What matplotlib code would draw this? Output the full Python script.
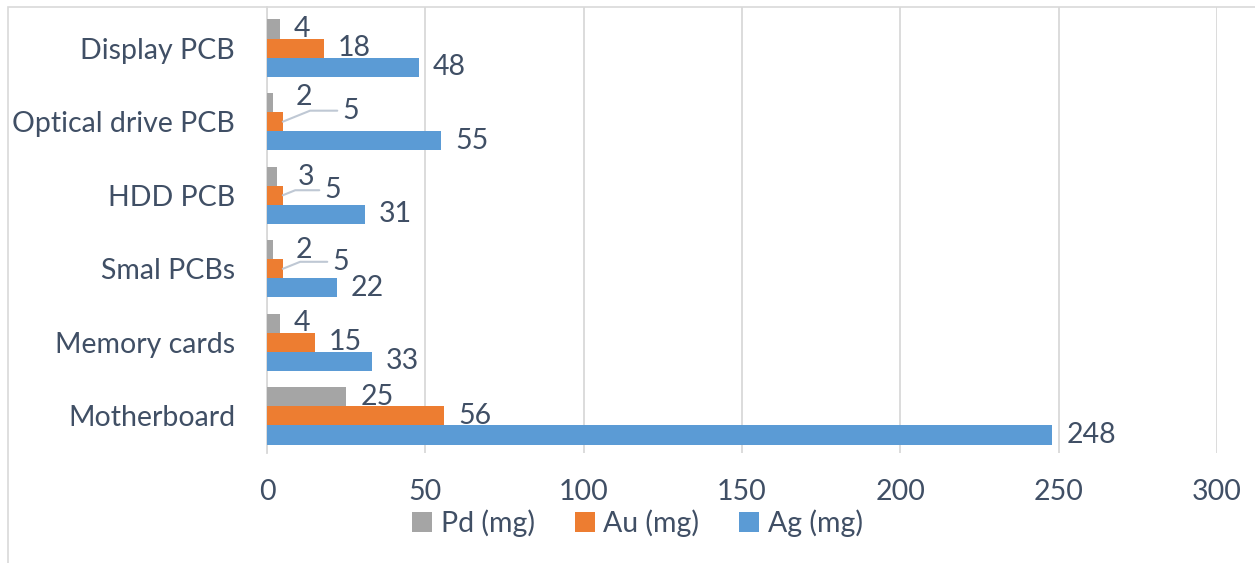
import matplotlib.pyplot as plt
import matplotlib.patches as mpatches
import numpy as np

categories = ['Motherboard', 'Memory cards', 'Smal PCBs', 'HDD PCB',
              'Optical drive PCB', 'Display PCB']
ag = [248, 33, 22, 31, 55, 48]
au = [56, 15, 5, 5, 5, 18]
pd_ = [25, 4, 2, 3, 2, 4]
x_ticks = [0, 50, 100, 150, 200, 250, 300]

txt = '#404F65'
fs = 20.5
plt.rcParams['font.family'] = ['Lato', 'DejaVu Sans']
plt.rcParams['font.size'] = fs

fig = plt.figure(figsize=(12.55, 5.63), dpi=100)
ax = fig.add_axes([267 / 1255, 1 - 453 / 563, 950 / 1255, 446 / 563])

# chart border
fig.patches.append(mpatches.Rectangle((8 / 1255, -0.1), 1.2, 1 - 7 / 563 + 0.1,
                                      transform=fig.transFigure, fill=False,
                                      edgecolor='#D9D9D9', linewidth=1.2))

y = np.arange(len(categories))
h = 0.26
b_pd = ax.barh(y + h, pd_, h, color='#A5A5A5', label='Pd (mg)', zorder=3)
b_au = ax.barh(y, au, h, color='#ED7D31', label='Au (mg)', zorder=3)
b_ag = ax.barh(y - h, ag, h, color='#5B9BD5', label='Ag (mg)', zorder=3)

# default label offset (pixels), a few small ones moved with leader lines
moved = {
    ('au', 4): (60, 11), ('pd', 4): (22, 6),
    ('au', 3): (42, 5), ('pd', 3): (21, -1),
    ('au', 2): (50, 7), ('pd', 2): (22, 0),
}
for key, vals, ypos in (('pd', pd_, y + h), ('au', au, y), ('ag', ag, y - h)):
    for i, (v, yy) in enumerate(zip(vals, ypos)):
        dx, dy = moved.get((key, i), (14, 0))
        arrow = None
        if key == 'au' and (key, i) in moved:
            arrow = dict(arrowstyle='-', color='#BFC8D4', lw=1.5,
                         shrinkA=2, shrinkB=0,
                         connectionstyle='angle,angleA=0,angleB=22,rad=0')
        ax.annotate(str(v), xy=(v, yy), xytext=(dx * 0.72, dy * 0.72),
                    textcoords='offset points', ha='left', va='center',
                    color=txt, fontsize=fs, arrowprops=arrow, zorder=4)

ax.set_xlim(0, 300)
ax.set_ylim(-0.504, 5.559)
ax.set_xticks(x_ticks)
ax.set_yticks(y)
ax.set_yticklabels(categories)
ax.tick_params(axis='both', length=0, colors=txt, labelsize=fs)
ax.tick_params(axis='y', pad=23)
ax.tick_params(axis='x', pad=19)
ax.grid(axis='x', color='#D9D9D9', linewidth=1.3, zorder=0)
for s in ['top', 'right', 'bottom']:
    ax.spines[s].set_visible(False)
ax.spines['left'].set_color('#D9D9D9')
ax.spines['left'].set_linewidth(1.3)

fig.legend(handles=[b_pd, b_au, b_ag], loc='center',
           bbox_to_anchor=(0.508, 1 - 523 / 563), ncol=3, frameon=False,
           handlelength=0.7, handleheight=0.7, handletextpad=0.3,
           columnspacing=1.4, labelcolor=txt, fontsize=fs)

fig.savefig('out.png', dpi=100)
